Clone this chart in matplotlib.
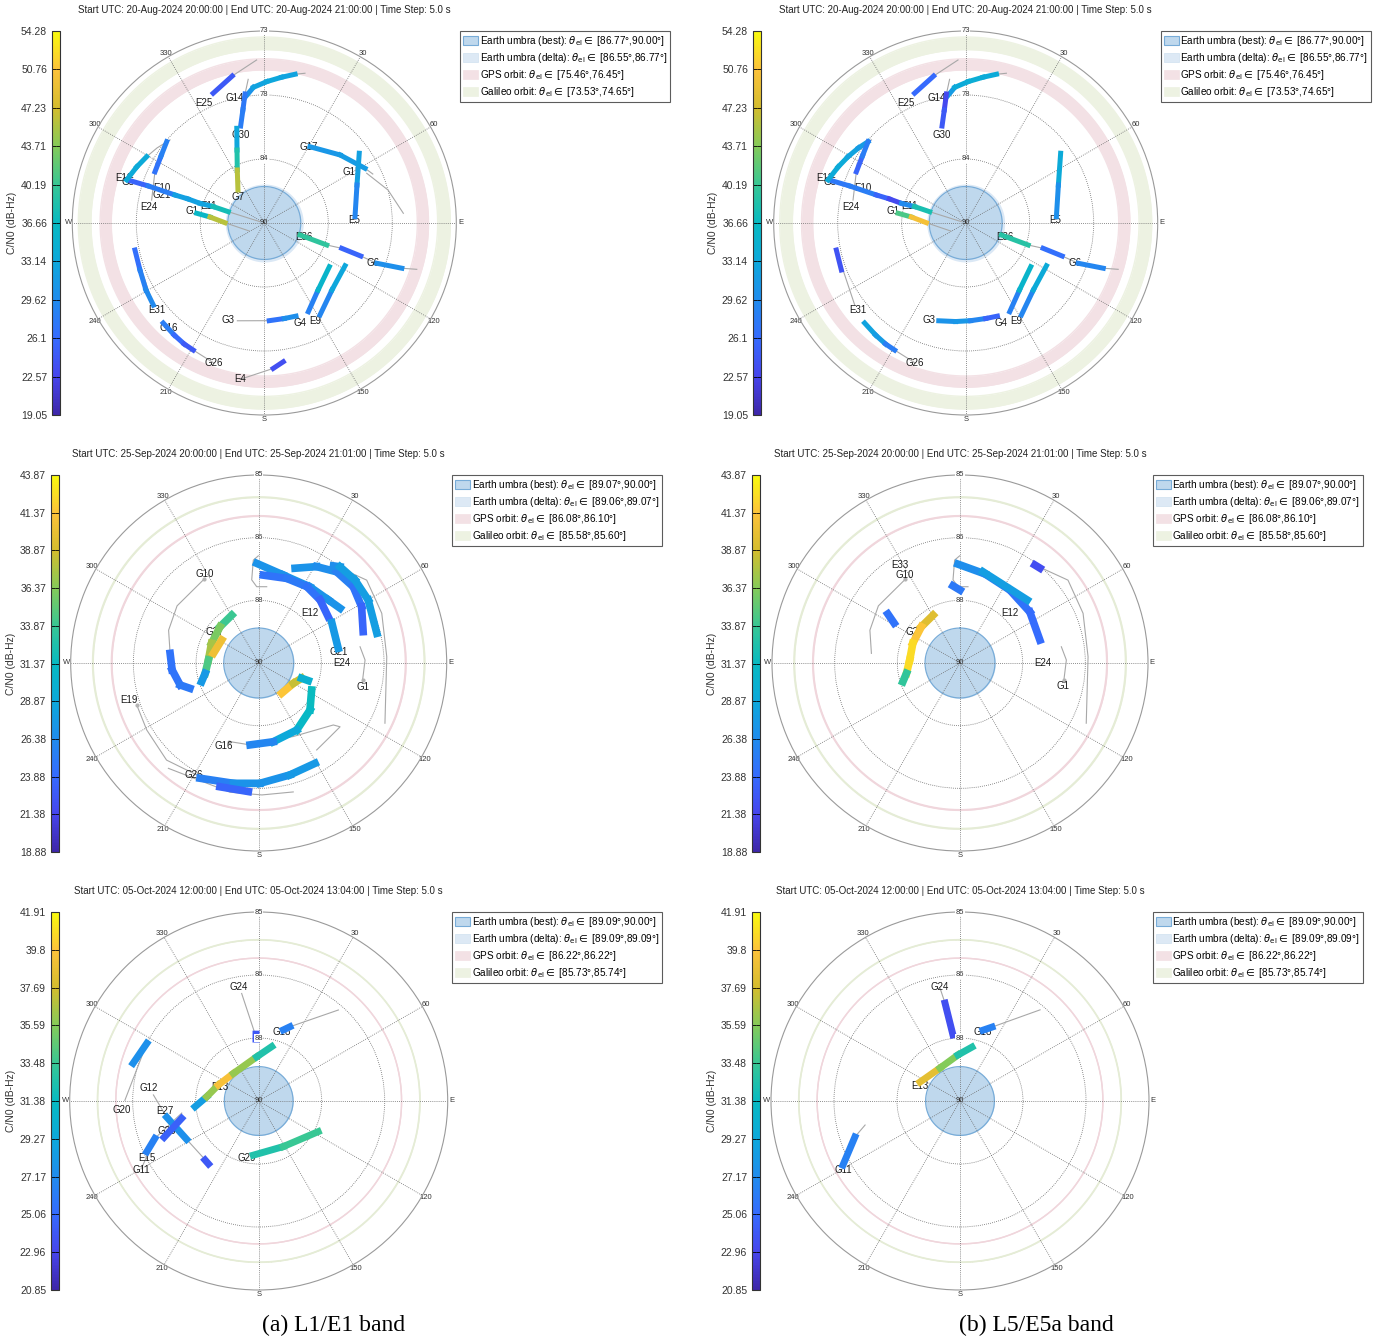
import numpy as np
import matplotlib
matplotlib.use('Agg')
import matplotlib.pyplot as plt
from matplotlib.colors import LinearSegmentedColormap, Normalize
from matplotlib.collections import LineCollection
from matplotlib.patches import Patch
from matplotlib.cm import ScalarMappable

plt.rcParams['font.family'] = ['Liberation Sans', 'DejaVu Sans']
plt.rcParams['mathtext.fontset'] = 'dejavusans'

nan = np.nan
W, H = 1390, 1340

# ---------------- data ----------------
# time windows of the three sessions
t_start = ['20-Aug-2024 20:00:00', '25-Sep-2024 20:00:00', '05-Oct-2024 12:00:00']
t_end = ['20-Aug-2024 21:00:00', '25-Sep-2024 21:01:00', '05-Oct-2024 13:04:00']

# lowest elevation shown on each row
el_min = [73, 85, 85]

# legend intervals (deg elevation)
umbra_best = [(86.77, 90.00), (89.07, 90.00), (89.09, 90.00)]
umbra_delta = [(86.55, 86.77), (89.06, 89.07), (89.09, 89.09)]
gps_orbit = [(75.46, 76.45), (86.08, 86.10), (86.22, 86.22)]
gal_orbit = [(73.53, 74.65), (85.58, 85.60), (85.73, 85.74)]

# colorbar tick labels (C/N0, dB-Hz)
cb_ticks = [
    ['19.05', '22.57', '26.1', '29.62', '33.14', '36.66', '40.19', '43.71', '47.23', '50.76', '54.28'],
    ['18.88', '21.38', '23.88', '26.38', '28.87', '31.37', '33.87', '36.37', '38.87', '41.37', '43.87'],
    ['20.85', '22.96', '25.06', '27.17', '29.27', '31.38', '33.48', '35.59', '37.69', '39.8', '41.91'],
]

# ---- row 1 (20-Aug): tracks (azimuth deg, elevation deg)
trk1 = {
    'G14': ([351.6, 355.4, 1.0, 6.8, 11.7], [78.69, 77.95, 77.48, 77.00, 76.55]),
    'G30': ([351.5, 349.3, 346.3], [78.45, 79.80, 81.16]),
    'G7': ([343.8, 339.5, 333.0, 321.4], [81.27, 83.10, 84.73, 86.26]),
    'E25': ([338.5, 347.7], [77.65, 76.68]),
    'G17': ([30.9, 48.1, 61.5], [82.13, 80.98, 79.85]),
    'E5': ([53.7, 67.7, 86.0], [79.57, 81.13, 81.95]),
    'E36': ([108.6, 109.4], [86.66, 84.14]),
    'G6a': ([108.1, 108.9], [82.79, 80.97]),
    'G6b': ([109.7, 108.2], [79.42, 77.18]),
    'G1': ([278.2, 276.3, 270.4], [83.95, 85.16, 86.52]),
    'G5': ([287.5, 287.7, 287.4, 287.5, 287.0, 287.8, 287.4],
           [77.37, 79.21, 81.71, 82.91, 84.05, 85.23, 86.66]),
    'E12': ([287.4, 293.7, 299.4, 305.0, 309.8], [77.23, 77.66, 78.04, 78.41, 78.75]),
    'E24': ([295.1, 303.0, 309.8], [79.31, 79.10, 78.75]),
    'E31': ([258.2, 249.3, 240.5, 233.5], [78.30, 78.23, 77.96, 77.78]),
    'G26': ([225.3, 218.8, 213.5, 209.2], [77.41, 77.27, 77.15, 77.11]),
    'G3': ([195.4, 185.8, 177.1, 168.2, 161.2], [81.02, 81.23, 81.34, 81.36, 81.29]),
    'G4': ([153.6, 141.3, 123.9], [81.23, 82.39, 83.06]),
    'E9': ([148.8, 134.7, 117.9], [80.48, 81.57, 81.91]),
    'E4': ([176.5, 172.2], [77.10, 77.60]),
}
cn0_1_l1 = {
    'G14': [29, 32, 33, 33, 32], 'G30': [27, 28, 28], 'G7': [31, 35, 42, 50],
    'E25': [24, 25], 'G17': [31, 31, 32], 'E5': [34, 30, 28], 'E36': [42, 37],
    'G6a': [24, 27], 'G6b': [31, 29], 'G1': [30, 42, 50],
    'G5': [25, 26, 30, 34, 30, 35, 40], 'E12': [33, 34, 33, nan, nan],
    'E24': [26, 28, 29], 'E31': [25, 28, 29, 30], 'G26': [29, 27, 25, 24],
    'G3': [nan, nan, 25, 29, 31], 'G4': [24, 33, 38], 'E9': [24, 34, 32], 'E4': [23, 24],
}
cn0_1_l5 = {
    'G14': [30, 33, 34, 34, 33], 'G30': [22, 24, 25], 'E25': [25, 27],
    'E5': [36, 31, 29], 'E36': [42, 36], 'G6a': [23, 30], 'G6b': [30, 28],
    'G1': [36, 46, 54], 'G5': [27, 28, 28, 23, 23, 36, 40],
    'E12': [33, 34, 33, 32, 31], 'E24': [24, 27, 29], 'E31': [23, 25, nan, nan],
    'G26': [33, 32, 31, 25], 'G3': [30, 31, 31, 27, 24], 'G4': [24, 33, 38], 'E9': [24, 34, 33],
}
gray1 = [
    ([351.6, 355.4, 1.0, 6.8, 11.7, 15.2], [78.69, 77.95, 77.48, 77.00, 76.55, 76.26]),
    ([346.3, 349.3, 351.5, 353.6], [81.16, 79.80, 78.45, 77.20]),
    ([338.5, 347.7, 357.3], [77.65, 76.68, 75.55]),
    ([108.6, 109.4, 108.1, 108.9, 109.7, 108.2, 106.9], [86.66, 84.14, 82.79, 80.97, 79.42, 77.18, 75.89]),
    ([270.4, 242.0], [86.52, 88.49]),
    ([287.4, 287.0], [86.66, 89.60]),
    ([299.4, 305.0, 311.4], [78.04, 78.41, 78.87]),
    ([281.5, 298.9], [79.82, 79.04]),
    ([209.2, 200.0], [77.11, 76.83]),
    ([195.4, 177.1], [81.02, 81.34]),
    ([233.5, 258.2], [77.78, 78.30]),
]
gray1_l1 = [
    ([30.9, 48.1, 61.5, 65.7], [82.13, 80.98, 79.85, 79.46]),
    ([64.1, 75.1, 86.0], [79.92, 78.66, 77.66]),
    ([188.8, 176.5, 172.2], [75.99, 77.10, 77.60]),
]
lbl1 = {
    'G14': (346.8, 78.63), 'G30': (345.0, 81.93), 'E25': (333.3, 78.13),
    'E5': (88.1, 82.03), 'E36': (109.0, 86.28), 'G6': (110.3, 79.71),
    'G1': (279.4, 83.48), 'E11': (287.2, 84.81), 'E10': (288.7, 80.41),
    'E12': (287.9, 76.94), 'G5': (286.7, 77.42), 'E24': (278.1, 79.72),
    'E31': (231.0, 77.74), 'G26': (200.0, 76.83), 'G3': (200.7, 80.82),
    'G4': (160.4, 80.57), 'E9': (152.6, 80.25),
}
lbl1_l1 = {'G7': (315.3, 86.72), 'G17': (30.0, 82.20), 'G15': (59.6, 81.03),
           'G21': (285.3, 80.58), 'G16': (222.5, 77.42), 'E4': (188.8, 75.99)}

# ---- row 2 (25-Sep)
trk2_l1 = {
    'G10': ([276.2, 265.4, 254.4, 249.8], [87.63, 87.69, 87.83, 88.05]),
    'G27': ([330.6, 313.2, 292.7, 273.4, 259.1, 251.8], [88.54, 88.59, 88.64, 88.66, 88.55, 88.40]),
    'G27b': ([282.1, 301.9], [88.77, 88.84]),
    'Y': ([142.8, 120.4, 109.6, 109.6], [88.99, 88.93, 88.79, 88.60]),
    'G16': ([117.0, 132.5, 150.4, 169.5, 186.0], [88.42, 88.15, 87.95, 87.87, 87.81]),
    'G26': ([207.0, 191.9, 179.4, 164.4, 150.7], [86.56, 86.73, 86.80, 86.91, 86.94]),
    'G26b': ([197.4, 184.6], [86.55, 86.57]),
    'A': ([358.9, 15.6, 33.9, 47.8, 56.1], [87.35, 87.57, 87.56, 87.50, 87.39]),
    'B': ([3.0, 18.3, 32.2, 44.2, 56.4], [87.66, 87.63, 87.60, 87.66, 87.78]),
    'C': ([21.0, 31.0, 40.5, 51.1, 61.3, 73.3], [87.30, 87.01, 86.81, 86.77, 86.88, 87.10]),
    'D': ([37.6, 40.2, 49.2, 60.1, 75.9], [86.74, 86.65, 86.62, 86.64, 86.76]),
    'G21': ([61.1, 79.5], [87.78, 87.85]),
}
cn0_2_l1 = {
    'G10': [25, 24, 25, 25], 'G27': [33, 35, 37, 38, 31, 24], 'G27b': [40, 41],
    'Y': [42, 41, 36, 24], 'G16': [31, 32, 30, 28, 24], 'G26': [24, 27, 27, 27, 28],
    'G26b': [23, 24], 'A': [27, 27, 27, 27, 27], 'B': [24, 25, 25, 24, 23],
    'C': [27, 27, 26, 25, 24, 23], 'D': [25, 28, 28, 28, 28], 'G21': [27, 28],
}
trk2_l5 = {
    'G27': trk2_l1['G27'],
    'E33': ([304.2, 301.2], [87.68, 87.95]),
    'A': ([358.8, 15.7, 34.4, 53.9, 74.0], [87.37, 87.54, 87.65, 87.70, 87.79]),
    'B': ([14.2, 46.8], [87.50, 87.55]),
    'P': ([37.4, 40.1], [86.72, 86.70]),
    'S': ([354.8, 0.0], [87.94, 88.06]),
}
cn0_2_l5 = {'G27': [38, 41, 42, 43, 42, 25], 'E33': [24, 25], 'A': [27, 26, 25, 24, 24],
            'B': [28, 28], 'P': [22, 22], 'S': [25, 25]}
gray2 = [
    ([326.8, 305.0, 290.0, 276.2], [87.34, 87.35, 87.45, 87.63]),
    ([99.3, 88.4, 80.9], [87.20, 87.17, 87.27]),
    ([37.3, 52.5, 68.0, 87.2, 115.5], [86.72, 86.38, 86.47, 86.59, 86.28]),
    ([359.8, 357.0, 355.2, 358.5, 6.0], [87.15, 87.26, 87.78, 87.97, 87.96]),
]
gray2_l1 = [
    ([200.5, 186.0], [87.77, 87.81]),
    ([183.9, 154.9, 129.7, 128.1, 135.9, 146.3], [87.88, 87.84, 87.42, 87.25, 87.27, 87.22]),
    ([220.6, 192.5, 178.6, 165.0], [86.31, 86.48, 86.49, 86.45]),
    ([251.0, 239.1, 223.5, 207.3], [86.57, 86.53, 86.44, 86.60]),
]
dots2 = [(326.8, 87.34), (99.3, 87.20)]
dots2_l1 = [(200.5, 87.77), (251.0, 86.57)]
lbl2_l1 = {'G10': (328.8, 87.24), 'G27': (305.6, 88.57), 'E12': (45.9, 88.10),
           'G21': (81.9, 87.86), 'E24': (90.2, 87.79), 'G1': (102.8, 87.16),
           'E19': (254.0, 86.42), 'G16': (202.7, 87.61), 'G26': (210.3, 86.55)}
lbl2_l5 = {'E33': (328.5, 86.94), 'G10': (328.0, 87.24), 'G27': (304.6, 88.55),
           'E12': (45.0, 88.12), 'E24': (90.0, 87.79), 'G1': (102.6, 87.19)}

# ---- row 3 (05-Oct)
trk3_l1 = {
    'G24': ([357.7, 357.5], [88.23, 88.36]),
    'G18': ([19.1, 22.8], [88.01, 87.87]),
    'E13': ([264.9, 274.7, 291.6, 317.5, 357.4, 13.5], [88.31, 88.62, 88.85, 89.01, 88.83, 88.52]),
    'G29': ([185.7, 151.7, 117.3], [88.56, 88.63, 88.23]),
    'G20': ([286.7, 297.3], [86.53, 86.67]),
    'E27': ([260.0, 242.0], [87.53, 87.84]),
    'G25': ([249.0, 257.3], [87.32, 87.91]),
    'E15': ([245.6, 250.2], [86.75, 87.08]),
    'Q': ([222.3, 218.6], [87.89, 87.87]),
}
cn0_3_l1 = {'G24': [24, 24], 'G18': [26, 27], 'E13': [26, 31, 41, 38, 34, 31],
            'G29': [31, 34, 33], 'G20': [27, 28], 'E27': [25, 30], 'G25': [24, 25],
            'E15': [26, 27], 'Q': [24, 24]}
trk3_l5 = {
    'G24': ([351.3, 353.9], [87.38, 88.24]),
    'G18': ([18.0, 23.4], [88.03, 87.87]),
    'E13': ([295.4, 328.8, 357.5, 12.5], [88.83, 88.98, 88.78, 88.54]),
    'G11': ([241.3, 251.1], [86.47, 87.06]),
}
cn0_3_l5 = {'G24': [23, 24], 'G18': [26, 27], 'E13': [40, 37, 34, 31], 'G11': [25, 28]}
gray3_l1 = [
    ([351.0, 357.6], [87.12, 88.30]),
    ([22.8, 41.2], [87.87, 86.80]),
    ([297.3, 270.3], [86.67, 86.46]),
    ([273.3, 260.0], [87.21, 87.53]),
    ([242.0, 220.6], [87.84, 87.89]),
    ([240.2, 250.2, 261.1], [86.43, 87.08, 87.94]),
]
gray3_l5 = [
    ([350.0, 351.3], [86.98, 87.38]),
    ([23.4, 41.3], [87.87, 86.79]),
    ([251.1, 255.8], [87.06, 87.41]),
]
lbl3_l1 = {'G24': (349.9, 86.93), 'G18': (18.5, 88.08), 'E13': (290.3, 88.91),
           'G12': (276.6, 87.06), 'G20': (266.2, 86.37), 'E27': (263.9, 87.51),
           'G25': (252.1, 87.44), 'E15': (243.2, 86.68), 'G11': (239.5, 86.41),
           'G29': (192.0, 88.47)}
lbl3_l5 = {'G24': (350.0, 86.94), 'G18': (18.4, 88.08), 'E13': (290.6, 88.87),
           'G11': (239.5, 86.41)}

theta_lbls = ['', '30', '60', 'E', '120', '150', 'S', '210', '240', 'W', '300', '330']

# parula-like colormap
parula = LinearSegmentedColormap.from_list('parula', [
    (0.2422, 0.1504, 0.6603), (0.2760, 0.2700, 0.9300), (0.2100, 0.4200, 0.9950),
    (0.1250, 0.5500, 0.9300), (0.0500, 0.6600, 0.8600), (0.0300, 0.7300, 0.7600),
    (0.2200, 0.7800, 0.5800), (0.5200, 0.7950, 0.3500), (0.8300, 0.7400, 0.1800),
    (0.9900, 0.7600, 0.2300), (0.9763, 0.9831, 0.0538)])


def rect(x, y, w, h):
    return [x / W, 1 - (y + h) / H, w / W, h / H]


def pol(az, el):
    return np.unwrap(np.deg2rad(np.asarray(az, float))), 90 - np.asarray(el, float)


def draw_panel(fig, row, ax_px, cb_px, leg_px, trk, vals, gray, dots, lbls, lw):
    rmax = 90 - el_min[row]
    ax = fig.add_axes(rect(*ax_px), projection='polar')
    ax.set_theta_zero_location('N')
    ax.set_theta_direction(-1)
    full = np.linspace(0, 2 * np.pi, 361)

    # orbit bands
    for (lo, hi), fc, ec in [(gal_orbit[row], '#edf2e2', '#e5ecd6'),
                             (gps_orbit[row], '#f3e1e5', '#f0d6dc')]:
        ax.fill_between(full, 90 - hi, 90 - lo, color=fc, lw=0, zorder=0.6)
        c = ec if hi - lo < 0.1 else fc
        ax.plot(full, np.full_like(full, 90 - hi), color=c, lw=1.0, zorder=0.6)
        ax.plot(full, np.full_like(full, 90 - lo), color=c, lw=1.0, zorder=0.6)

    # earth umbra
    b0 = umbra_best[row][0]
    d0 = umbra_delta[row][0]
    ax.fill_between(full, 90 - b0, 90 - d0, color='#dbe8f5', lw=0, zorder=0.8)
    ax.fill_between(full, 0, 90 - b0, color='#bfd8ed', lw=0, zorder=0.8)
    ax.plot(full, np.full_like(full, 90 - b0), color='#78acd8', lw=0.9, zorder=0.9)

    # grid
    ax.set_thetagrids(np.arange(0, 360, 30), theta_lbls)
    ax.set_rgrids([rmax / 3, 2 * rmax / 3], labels=['', ''])
    ax.set_ylim(0, rmax)
    ax.grid(True, ls=(0, (1, 1.5)), color='#6a6a6a', lw=0.6)
    ax.tick_params(axis='x', pad=-4, length=0, labelsize=5.5, labelcolor='#333333')
    ax.spines['polar'].set_color('#9a9a9a')
    ax.spines['polar'].set_linewidth(0.8)
    for k in range(4):
        r = rmax * k / 3
        bb = dict(fc='white', ec='none', pad=0.3) if k else None
        ax.text(0, r, str(int(90 - r)), fontsize=5.5, ha='center', va='center',
                color='#333333', bbox=bb, zorder=6)

    # predicted paths
    for az, el in gray:
        th, r = pol(az, el)
        ax.plot(th, r, color='#a8a8a8', lw=0.8, zorder=2)
    for az, el in dots:
        th, r = pol([az], [el])
        ax.plot(th, r, 'o', ms=3, color='#b4b4b4', mec='none', zorder=2)

    # labels
    for name, (az, el) in lbls.items():
        th, r = pol([az], [el])
        ax.text(th[0], r[0], name, fontsize=7, ha='center', va='center',
                color='#1a1a1a', zorder=2.5)

    # measured tracks coloured by C/N0
    tk = [float(t) for t in cb_ticks[row]]
    norm = Normalize(tk[0], tk[-1])
    segs, cv = [], []
    for name, (az, el) in trk.items():
        if name not in vals:
            continue
        th, r = pol(az, el)
        v = np.asarray(vals[name], float)
        for i in range(len(th) - 1):
            if np.isfinite(v[i]) and np.isfinite(v[i + 1]):
                segs.append([(th[i], r[i]), (th[i + 1], r[i + 1])])
                cv.append((v[i] + v[i + 1]) / 2)
    lc = LineCollection(segs, cmap=parula, norm=norm, linewidths=lw,
                        capstyle='projecting', joinstyle='miter', zorder=3)
    lc.set_array(np.array(cv))
    ax.add_collection(lc, autolim=False)
    ax.set_ylim(0, rmax)

    # colorbar
    cax = fig.add_axes(rect(*cb_px))
    cb = fig.colorbar(ScalarMappable(norm=norm, cmap=parula), cax=cax)
    cb.set_ticks(tk)
    cb.set_ticklabels(cb_ticks[row])
    cax.yaxis.set_ticks_position('left')
    cax.tick_params(labelsize=7.5, length=3, width=0.6, direction='in',
                    left=True, right=True, labelcolor='#333333')
    cb.outline.set_linewidth(0.8)
    cb.outline.set_edgecolor('#333333')
    cax.yaxis.set_label_position('left')
    cb.set_label('C/N0 (dB-Hz)', fontsize=7.5, labelpad=3, color='#333333')

    # title
    cx = ax_px[0] + ax_px[2] / 2
    fig.text(cx / W, 1 - (ax_px[1] - 21) / H,
             f'Start UTC: {t_start[row]} | End UTC: {t_end[row]} | Time Step: 5.0 s',
             ha='center', va='center', fontsize=7, color='#222222')

    # legend
    th_s = r'$\theta_{\mathrm{el}}\in$'
    ub, ud, gp, ga = umbra_best[row], umbra_delta[row], gps_orbit[row], gal_orbit[row]
    labels = [f'Earth umbra (best): {th_s} [{ub[0]:.2f}°,{ub[1]:.2f}°]',
              f'Earth umbra (delta): {th_s} [{ud[0]:.2f}°,{ud[1]:.2f}°]',
              f'GPS orbit: {th_s} [{gp[0]:.2f}°,{gp[1]:.2f}°]',
              f'Galileo orbit: {th_s} [{ga[0]:.2f}°,{ga[1]:.2f}°]']
    handles = [Patch(fc='#bfd8ed', ec='#78acd8', lw=0.8),
               Patch(fc='#dde9f5', ec='#d0e1f0', lw=0.5),
               Patch(fc='#f3e1e5', ec='#f3e1e5', lw=0.5),
               Patch(fc='#edf2e2', ec='#edf2e2', lw=0.5)]
    leg = fig.legend(handles, labels, loc='upper left',
                     bbox_to_anchor=(leg_px[0] / W, 1 - leg_px[1] / H),
                     fontsize=7.2, frameon=True, fancybox=False, edgecolor='#333333',
                     borderpad=0.3, handlelength=1.5, handleheight=0.9,
                     handletextpad=0.15, labelspacing=0.3, borderaxespad=0)
    leg.get_frame().set_linewidth(0.8)
    return ax


fig = plt.figure(figsize=(W / 100, H / 100), dpi=100)

# row 1
draw_panel(fig, 0, (72.3, 31, 384, 384), (52, 31, 8, 384), (460, 31),
           trk1, cn0_1_l1, gray1 + gray1_l1, [], {**lbl1, **lbl1_l1}, 3.6)
draw_panel(fig, 0, (773.7, 31, 384, 384), (753, 31, 8, 384), (1161, 31),
           trk1, cn0_1_l5, gray1, [], lbl1, 3.6)
# row 2
draw_panel(fig, 1, (70.7, 475, 376, 376), (51, 475, 8, 377), (452, 475),
           trk2_l1, cn0_2_l1, gray2 + gray2_l1, dots2 + dots2_l1, lbl2_l1, 5.5)
draw_panel(fig, 1, (772, 475, 376, 376), (752, 475, 8, 377), (1153, 475),
           trk2_l5, cn0_2_l5, gray2, dots2, lbl2_l5, 5.5)
# row 3
draw_panel(fig, 2, (69.7, 912, 378, 378), (51, 912, 8, 378), (452, 912),
           trk3_l1, cn0_3_l1, gray3_l1, [], lbl3_l1, 5.0)
draw_panel(fig, 2, (771, 912, 378, 378), (752, 912, 8, 378), (1153, 912),
           trk3_l5, cn0_3_l5, gray3_l5, [], lbl3_l5, 5.0)

for x, txt in [(334, '(a) L1/E1 band'), (1036, '(b) L5/E5a band')]:
    fig.text(x / W, 1 - 1325 / H, txt, ha='center', va='center', fontsize=17,
             family='Liberation Serif')

fig.savefig('out.png', dpi=100)
